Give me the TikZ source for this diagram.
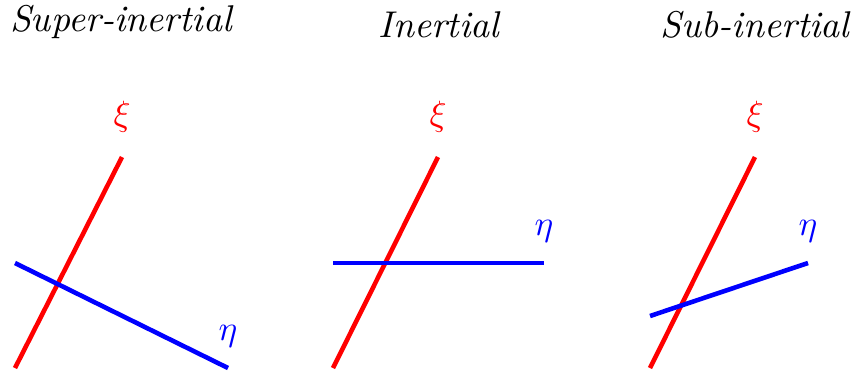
\documentclass[tikz,border=0pt]{standalone}
\usepackage{amsmath}
\usetikzlibrary{positioning}

\begin{document}
\begin{tikzpicture}[
  xiline/.style={red, line width=1.3pt},
  etaline/.style={blue, line width=1.3pt},
  ttl/.style={font=\fontsize{10.6}{12}\selectfont\itshape},
  xilbl/.style={red, above},
  etalbl/.style={blue, above},
]
  \useasboundingbox (0,0) rectangle (8.55,3.77);

  % super-inertial
  \node[ttl] (t1) at (1.21,3.55) {Super-inertial};
  \coordinate (a1) at (0.15,0.09);
  \coordinate (b1) at (1.22,2.20);
  \coordinate (c1) at (0.15,1.14);
  \coordinate (d1) at (2.28,0.09);
  \draw[xiline] (a1) -- (b1);
  \draw[etaline] (c1) -- (d1);
  \node[xilbl, above=0.12 of b1] (xi1) {$\xi$};
  \node[etalbl, above=0.08 of d1] (eta1) {$\eta$};

  % inertial
  \node[ttl] (t2) at (4.39,3.52) {Inertial};
  \coordinate (a2) at (3.33,0.09);
  \coordinate (b2) at (4.38,2.20);
  \coordinate (c2) at (3.33,1.14);
  \coordinate (d2) at (5.44,1.14);
  \draw[xiline] (a2) -- (b2);
  \draw[etaline] (c2) -- (d2);
  \node[xilbl, above=0.12 of b2] (xi2) {$\xi$};
  \node[etalbl, above=0.08 of d2] (eta2) {$\eta$};

  % sub-inertial
  \node[ttl] (t3) at (7.55,3.52) {Sub-inertial};
  \coordinate (a3) at (6.50,0.09);
  \coordinate (b3) at (7.55,2.20);
  \coordinate (c3) at (6.50,0.61);
  \coordinate (d3) at (8.08,1.14);
  \draw[xiline] (a3) -- (b3);
  \draw[etaline] (c3) -- (d3);
  \node[xilbl, above=0.12 of b3] (xi3) {$\xi$};
  \node[etalbl, above=0.08 of d3] (eta3) {$\eta$};
\end{tikzpicture}
\end{document}
